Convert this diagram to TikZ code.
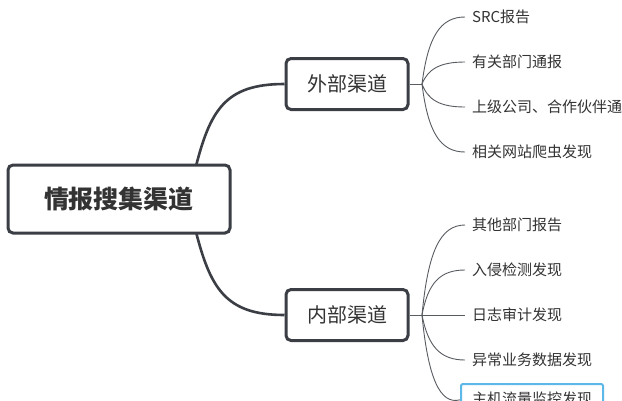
\documentclass[tikz,border=0pt]{standalone}
\usepackage{fontspec}
\setmainfont{Noto Sans CJK SC}
\usetikzlibrary{calc}
\definecolor{ink}{HTML}{333333}
\definecolor{edge}{HTML}{3B3F45}
\definecolor{sel}{HTML}{5BB8E8}
\begin{document}
\begin{tikzpicture}[x=1pt,y=-1pt,
  topic/.style={draw=edge,line width=3pt,rounded corners=5pt,fill=white,text=ink,inner sep=0pt,align=center},
  leaf/.style={anchor=west,inner xsep=7pt,inner ysep=2pt,text=ink,font=\fontsize{15}{18}\selectfont},
  thick link/.style={draw=edge,line width=2.6pt},
  thin link/.style={draw=edge!85,line width=0.9pt}]
\useasboundingbox (0,0) rectangle (622,400);
\clip (0,0) rectangle (622,400);
\fill[white] (0,0) rectangle (622,400);
% root curves (drawn first, covered by root box)
\coordinate (ru) at (195,170);
\coordinate (rd) at (195,228);
\node[topic,minimum width=122pt,minimum height=51pt,font=\fontsize{20}{24}\selectfont] (ext) at (347,84) {外部渠道};
\node[topic,minimum width=122pt,minimum height=51pt,font=\fontsize{20}{24}\selectfont] (int) at (347,315) {内部渠道};
\draw[thick link] (ru) .. controls (210,110) and (225,84) .. (ext.west);
\draw[thick link] (rd) .. controls (210,288) and (225,315) .. (int.west);
\node[topic,minimum width=222pt,minimum height=68pt,font=\fontsize{25}{30}\selectfont\bfseries] (root) at (119,199) {情报搜集渠道};
% external leaves
\coordinate (ej) at (422,84);
\node[leaf] (e1) at (465,17) {SRC报告};
\node[leaf] (e2) at (465,62) {有关部门通报};
\node[leaf] (e3) at (465,107) {上级公司、合作伙伴通报};
\node[leaf] (e4) at (465,152) {相关网站爬虫发现};
\draw[thin link] (ext.east) -- (ej);
\draw[thin link] (ej) .. controls (428,37) and (440,17) .. (e1.west);
\draw[thin link] (ej) .. controls (428,69) and (440,62) .. (e2.west);
\draw[thin link] (ej) .. controls (428,100) and (440,107) .. (e3.west);
\draw[thin link] (ej) .. controls (428,132) and (440,152) .. (e4.west);
% internal leaves
\coordinate (ij) at (422,315);
\node[leaf] (i1) at (465,225) {其他部门报告};
\node[leaf] (i2) at (465,270) {入侵检测发现};
\node[leaf] (i3) at (465,315) {日志审计发现};
\node[leaf] (i4) at (465,360) {异常业务数据发现};
\node[leaf,anchor=north west,draw=sel,line width=2pt,rounded corners=2pt,inner xsep=11pt,inner ysep=8pt,minimum width=142pt,text depth=3pt] (i5) at (460,383) {主机流量监控发现};
\draw[thin link] (int.east) -- (ij);
\draw[thin link] (ij) .. controls (428,252) and (440,225) .. (i1.west);
\draw[thin link] (ij) .. controls (428,283) and (440,270) .. (i2.west);
\draw[thin link] (ij) -- (i3.west);
\draw[thin link] (ij) .. controls (428,346) and (440,360) .. (i4.west);
\draw[thin link] (ij) .. controls (428,378) and (440,405) .. (i5.west);
\end{tikzpicture}
\end{document}
